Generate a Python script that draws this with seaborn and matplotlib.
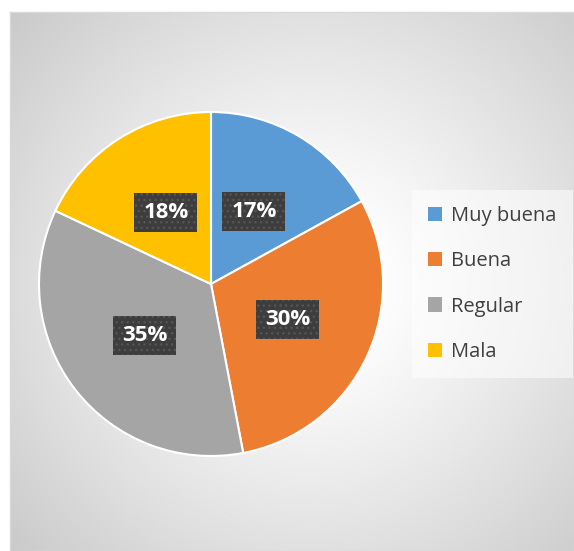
import numpy as np
import matplotlib
matplotlib.use("Agg")
import matplotlib.pyplot as plt
from matplotlib.patches import Patch
import seaborn as sns

## datos del grafico
categorias = ["Muy buena", "Buena", "Regular", "Mala"]
porcentajes = [17, 30, 35, 18]
colores = ["#5B9BD5", "#ED7D31", "#A5A5A5", "#FFC000"]

sns.set_theme(style="white")
plt.rcParams["font.family"] = ["Open Sans", "DejaVu Sans"]

W, H = 574, 551
fig = plt.figure(figsize=(W / 100, H / 100), dpi=100)
fig.patch.set_facecolor("white")

## fondo con degradado radial
ax_bg = fig.add_axes([10 / W, 0, (W - 10) / W, (H - 12) / H])
yy, xx = np.mgrid[0:H - 12, 0:W - 10]
cx, cy = 300, 270
r = np.hypot(xx - cx, yy - cy)
g = 1.0 - 0.22 * np.clip((r - 60) / 360, 0, 1) ** 1.1
ax_bg.imshow(np.dstack([g, g, g]), aspect="auto", interpolation="bilinear")
ax_bg.set_xticks([])
ax_bg.set_yticks([])
for s in ax_bg.spines.values():
    s.set_color("#d9d9d9")
    s.set_linewidth(1.0)

## pastel
cxp, cyp, rad = 211, 284, 172
ax = fig.add_axes([(cxp - rad) / W, (H - cyp - rad) / H, 2 * rad / W, 2 * rad / H])
ax.set_facecolor("none")
wedges, textos, autotextos = ax.pie(
    porcentajes,
    colors=colores,
    startangle=90,
    counterclock=False,
    autopct="%d%%",
    pctdistance=0.49,
    radius=1,
    wedgeprops=dict(edgecolor="white", linewidth=1.5),
)
for t in autotextos:
    t.set_color("white")
    t.set_fontsize(16)
    t.set_fontweight("bold")
    t.set_bbox(dict(boxstyle="square,pad=0.4", facecolor="#3d3d3d",
                    edgecolor="#555555", linewidth=0, hatch="..."))
ax.set_xlim(-1, 1)
ax.set_ylim(-1, 1)
ax.axis("off")

## leyenda
manijas = [Patch(facecolor=c, edgecolor="none") for c in colores]
leg = fig.legend(
    manijas, categorias,
    loc="center left",
    bbox_to_anchor=(412 / W, 1 - 284 / H),
    borderaxespad=0,
    fontsize=14.5,
    frameon=True,
    handlelength=0.7,
    handleheight=0.7,
    handletextpad=0.45,
    labelspacing=1.25,
    borderpad=0.8,
    fancybox=False,
)
leg.get_frame().set_facecolor("white")
leg.get_frame().set_alpha(0.55)
leg.get_frame().set_edgecolor("none")
for t in leg.get_texts():
    t.set_color("#404040")

fig.savefig("out.png", dpi=100)
